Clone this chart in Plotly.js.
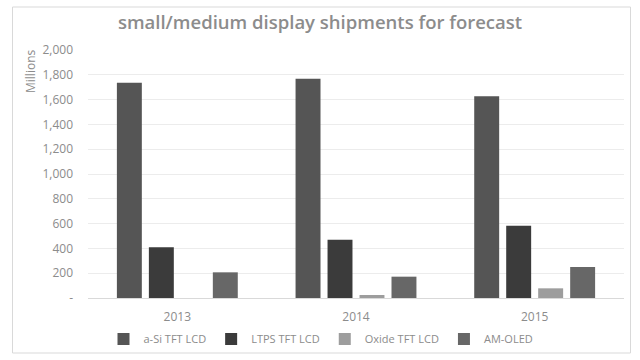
<!DOCTYPE html>
<html>
<head>
<meta charset="utf-8">
<script src="https://cdn.plot.ly/plotly-3.0.1.min.js"></script>
<style>
  html, body { margin: 0; padding: 0; background: #ffffff; }
  #chart { width: 640px; height: 360px; }
</style>
</head>
<body>
<div id="chart"></div>
<script>
const years = ["2013", "2014", "2015"];
const seriesNames = ["a-Si TFT LCD", "LTPS TFT LCD", "Oxide TFT LCD", "AM-OLED"];
const aSiTFT = [1736, 1769, 1627];
const ltpsTFT = [409, 470, 583];
const oxideTFT = [0, 24, 78];
const amOLED = [207, 172, 250];
const yTickVals = [0, 200, 400, 600, 800, 1000, 1200, 1400, 1600, 1800, 2000];
const yTickText = ["-", "200", "400", "600", "800", "1,000", "1,200", "1,400", "1,600", "1,800", "2,000"];

const colors = ["#555555", "#3b3b3b", "#9d9d9d", "#676767"];
const values = [aSiTFT, ltpsTFT, oxideTFT, amOLED];

const traces = seriesNames.map((name, i) => ({
  type: "bar",
  name: name,
  x: years,
  y: values[i],
  marker: { color: colors[i], line: { width: 0 } },
  hoverinfo: "x+y+name"
}));

const FONT = "'Open Sans', 'Noto Sans', sans-serif";
const grey = "#8c8c8c";

const L = 88, R = 624, T = 50, B = 298;
const pw = R - L, ph = B - T;
const px = v => (v - L) / pw;
const py = v => (B - v) / ph;

const layout = {
  width: 640,
  height: 360,
  margin: { l: L, r: 640 - R, t: T, b: 360 - B, pad: 0, autoexpand: false },
  paper_bgcolor: "#ffffff",
  plot_bgcolor: "#ffffff",
  font: { family: FONT, color: grey, size: 12 },
  title: {
    text: "small/medium display shipments for forecast",
    font: { family: FONT, size: 18.5, color: "#8c8c8c", weight: 600 },
    x: 0.5, xref: "container", xanchor: "center",
    y: 1 - 23 / 360, yref: "container", yanchor: "middle"
  },
  barmode: "group",
  bargap: 0.284,
  bargroupgap: 0.22,
  xaxis: {
    type: "category",
    showgrid: false,
    showline: false,
    zeroline: false,
    ticks: "",
    tickfont: { family: FONT, size: 12, color: grey },
    ticklabelstandoff: 10
  },
  yaxis: {
    range: [0, 2000],
    tickvals: yTickVals,
    ticktext: yTickText,
    showgrid: true,
    gridcolor: "#ececec",
    gridwidth: 1,
    zeroline: true,
    zerolinecolor: "#d9d9d9",
    zerolinewidth: 1,
    showline: false,
    ticks: "",
    tickfont: { family: FONT, size: 12, color: grey },
    ticklabelstandoff: 14
  },
  legend: {
    orientation: "h",
    x: px(321),
    xanchor: "center",
    y: py(339),
    yanchor: "middle",
    bgcolor: "rgba(0,0,0,0)",
    font: { family: FONT, size: 11, color: grey },
    itemwidth: 30,
    traceorder: "normal"
  },
  annotations: [{
    text: "Millions",
    xref: "paper", yref: "paper",
    x: px(30), y: py(72),
    xanchor: "center", yanchor: "middle",
    textangle: -90,
    showarrow: false,
    font: { family: FONT, size: 12, color: grey }
  }],
  shapes: [{
    type: "rect",
    xref: "paper", yref: "paper",
    x0: px(12.5), x1: px(630.5), y0: py(353), y1: py(7),
    line: { color: "#d9d9d9", width: 1 },
    fillcolor: "rgba(0,0,0,0)",
    layer: "below"
  }]
};

Plotly.newPlot("chart", traces, layout, { displayModeBar: false, staticPlot: true });
</script>
</body>
</html>
